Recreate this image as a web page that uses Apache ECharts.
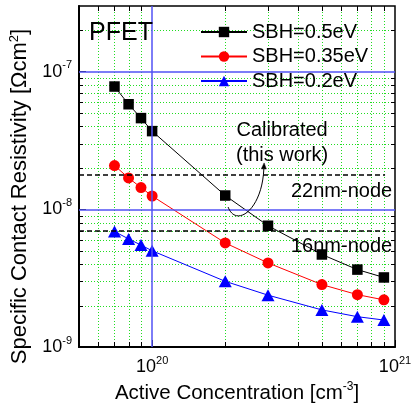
<!DOCTYPE html>
<html><head><meta charset="utf-8">
<script src="https://cdn.jsdelivr.net/npm/echarts@6/dist/echarts.min.js"></script>
<style>html,body{margin:0;padding:0;background:#fff}#c{width:417px;height:406px}</style>
</head><body><div id="c"></div>
<script>
// ---- data ----
const concentration = [7e19, 8e19, 9e19, 1e20, 2e20, 3e20, 5e20, 7e20, 9e20];
const sbh050 = [7.8e-8, 5.8e-8, 4.6e-8, 3.7e-8, 1.26e-8, 7.6e-9, 4.7e-9, 3.65e-9, 3.2e-9];
const sbh035 = [2.08e-8, 1.69e-8, 1.44e-8, 1.25e-8, 5.7e-9, 4.08e-9, 2.84e-9, 2.4e-9, 2.2e-9];
const sbh020 = [6.9e-9, 6.1e-9, 5.5e-9, 5.0e-9, 3.0e-9, 2.38e-9, 1.86e-9, 1.66e-9, 1.57e-9];
const seriesNames = ['SBH=0.5eV', 'SBH=0.35eV', 'SBH=0.2eV'];
const xMinorTicks = [6e19, 7e19, 8e19, 9e19, 2e20, 3e20, 4e20, 5e20, 6e20, 7e20, 8e20, 9e20];
const yMinorTicks = [2e-9, 3e-9, 4e-9, 5e-9, 6e-9, 7e-9, 8e-9, 9e-9,
                     2e-8, 3e-8, 4e-8, 5e-8, 6e-8, 7e-8, 8e-8, 9e-8, 2e-7];
const xMajorGrid = [1e20];
const yMajorGrid = [1e-8, 1e-7];
const nodeLevels = [1.78e-8, 7e-9];
const nodeLabels = ['22nm-node', '16nm-node'];
const X_MIN = 5e19, X_MAX = 1e21, Y_MIN = 1e-9, Y_MAX = 3e-7;
const NODE_LINE_END = 9.1e20;

const FONT = '"Liberation Sans", Arial, Helvetica, sans-serif';
const chart = echarts.init(document.getElementById('c'), null, {renderer: 'canvas'});

function pow10Label(v) {
  const e = Math.log10(v), r = Math.round(e);
  return Math.abs(e - r) < 1e-6 ? '{b|10}{s|' + r + '}' : '';
}
const labelRich = {
  b: {fontSize: 18, lineHeight: 24, fontFamily: FONT, color: '#000'},
  s: {fontSize: 11, lineHeight: 12, verticalAlign: 'top', fontFamily: FONT, color: '#000'}
};

function vLine(x, y1, y2, stroke, w, dash) {
  return {type: 'line', shape: {x1: x, y1: y1, x2: x, y2: y2},
          style: {stroke: stroke, lineWidth: w, lineDash: dash || null}};
}
function hLine(y, x1, x2, stroke, w, dash) {
  return {type: 'line', shape: {x1: x1, y1: y, x2: x2, y2: y},
          style: {stroke: stroke, lineWidth: w, lineDash: dash || null}};
}
const GREEN = '#22dd22';
const BLUE_GRID = '#5252f5';

const option = {
  animation: false,
  backgroundColor: '#fff',
  grid: {left: 79, right: 22, top: 6, bottom: 59, containLabel: false, outerBoundsMode: 'none',
         show: true, borderColor: '#000', borderWidth: 1.5, backgroundColor: 'transparent'},
  legend: {
    data: seriesNames, left: 200, top: 22, orient: 'vertical', padding: 0,
    itemWidth: 46, itemHeight: 13, itemGap: 4.5,
    textStyle: {fontSize: 20, lineHeight: 20, fontFamily: FONT, color: '#000'},
    selectedMode: false
  },
  xAxis: {
    type: 'log', logBase: 10, min: X_MIN, max: X_MAX,
    name: '{n|Active Concentration [cm}{s|-3}{n|]}', nameLocation: 'middle', nameGap: 30,
    nameTextStyle: {fontFamily: FONT, color: '#000', rich: {
      n: {fontSize: 20.5, lineHeight: 24, fontFamily: FONT, color: '#000'},
      s: {fontSize: 12, lineHeight: 12, verticalAlign: 'top', fontFamily: FONT, color: '#000'}}},
    axisLine: {show: true, lineStyle: {color: '#000', width: 2}},
    axisTick: {show: true, inside: true, length: 7, lineStyle: {color: '#000', width: 1}},
    axisLabel: {margin: 8, formatter: pow10Label, rich: labelRich, showMinLabel: false},
    splitLine: {show: false}, minorTick: {show: false}, minorSplitLine: {show: false}
  },
  yAxis: {
    type: 'log', logBase: 10, min: Y_MIN, max: Y_MAX,
    name: '{n|Specific Contact Resistivity [Ωcm}{s|2}{n|]}', nameLocation: 'middle', nameGap: 38,
    nameTextStyle: {fontFamily: FONT, color: '#000', padding: [0, 40, 0, 0], rich: {
      n: {fontSize: 22, lineHeight: 24, fontFamily: FONT, color: '#000'},
      s: {fontSize: 13, lineHeight: 12, verticalAlign: 'top', fontFamily: FONT, color: '#000'}}},
    axisLine: {show: true, lineStyle: {color: '#000', width: 2}},
    axisTick: {show: true, inside: true, length: 7, lineStyle: {color: '#000', width: 1}},
    axisLabel: {margin: 7, formatter: pow10Label, rich: labelRich, showMaxLabel: false},
    splitLine: {show: false}, minorTick: {show: false}, minorSplitLine: {show: false}
  },
  series: [
    { // minor vertical grid + ticks
      type: 'custom', name: 'xgrid', silent: true, z: 1,
      data: xMinorTicks.map(v => [v, Y_MIN]),
      renderItem: function (params, api) {
        const cs = params.coordSys;
        const p = api.coord([api.value(0), api.value(1)]);
        const x = Math.round(p[0]) + 0.5;
        return {type: 'group', children: [
          vLine(x, cs.y, cs.y + cs.height, GREEN, 1, [1, 2]),
          vLine(x, cs.y + cs.height, cs.y + cs.height - 5, '#000', 1),
          vLine(x, cs.y, cs.y + 5, '#000', 1)
        ]};
      }
    },
    { // minor horizontal grid + ticks
      type: 'custom', name: 'ygrid', silent: true, z: 1,
      data: yMinorTicks.map(v => [X_MIN, v]),
      renderItem: function (params, api) {
        const cs = params.coordSys;
        const p = api.coord([api.value(0), api.value(1)]);
        const y = Math.round(p[1]) + 0.5;
        return {type: 'group', children: [
          hLine(y, cs.x, cs.x + cs.width, GREEN, 1, [1, 2]),
          hLine(y, cs.x, cs.x + 4, '#000', 1),
          hLine(y, cs.x + cs.width, cs.x + cs.width - 4, '#000', 1)
        ]};
      }
    },
    { // reference lines (major grid + technology-node levels)
      type: 'line', name: 'ref', data: [], z: 2, silent: true,
      markLine: {
        silent: true, symbol: 'none', label: {show: false}, animation: false,
        emphasis: {disabled: true},
        data: [
          ...xMajorGrid.map(v => [
            {coord: [v, Y_MIN], lineStyle: {color: BLUE_GRID, width: 1.5, type: 'solid'}},
            {coord: [v, Y_MAX]}
          ]),
          ...yMajorGrid.map(v => [
            {coord: [X_MIN, v], lineStyle: {color: BLUE_GRID, width: 1.5, type: 'solid'}},
            {coord: [X_MAX, v]}
          ]),
          ...nodeLevels.map(v => [
            {coord: [X_MIN, v], lineStyle: {color: '#000', width: 1.5, type: [5, 3]}},
            {coord: [NODE_LINE_END, v]}
          ])
        ]
      }
    },
    {
      type: 'line', name: seriesNames[0], z: 3,
      data: concentration.map((c, i) => [c, sbh050[i]]),
      symbol: 'rect', symbolSize: 10.5, showAllSymbol: true,
      color: '#000', itemStyle: {color: '#000'}, lineStyle: {color: '#000', width: 1}
    },
    {
      type: 'line', name: seriesNames[1], z: 3,
      data: concentration.map((c, i) => [c, sbh035[i]]),
      symbol: 'circle', symbolSize: 11, showAllSymbol: true,
      color: '#ff0000', itemStyle: {color: '#ff0000'}, lineStyle: {color: '#ff0000', width: 1}
    },
    {
      type: 'line', name: seriesNames[2], z: 3,
      data: concentration.map((c, i) => [c, sbh020[i]]),
      symbol: 'triangle', symbolSize: [13, 12], showAllSymbol: true,
      color: '#0000ff', itemStyle: {color: '#0000ff'}, lineStyle: {color: '#0000ff', width: 1}
    }
  ]
};
chart.setOption(option);

// ---- annotations anchored in data space ----
function P(x, y) { return chart.convertToPixel({xAxisIndex: 0, yAxisIndex: 0}, [x, y]); }
function txt(pt, text, size, align, lh) {
  return {type: 'text', x: pt[0], y: pt[1], z: 10, silent: true,
    style: {text: text, fontSize: size, fontFamily: FONT, fill: '#000',
            align: align, textAlign: align, verticalAlign: 'middle', textVerticalAlign: 'middle',
            lineHeight: lh || size}};
}
const pPfet = P(5.5e19, 1.9e-7);
const pCal = P(3.43e20, 3.04e-8);
const pN22 = P(3.73e20, 1.35e-8);
const pN16 = P(3.73e20, 5.41e-9);
const a0 = P(2.055e20, 1.039e-8), a1 = P(2.217e20, 7.31e-9),
      a2 = P(2.836e20, 9.88e-9), a3 = P(2.89e20, 2.138e-8);
// arrowhead along end tangent
const dx = a3[0] - a2[0], dy = a3[1] - a2[1], L = Math.hypot(dx, dy);
const ux = dx / L, uy = dy / L, hl = 6, hw = 2.5;
const tip = [a3[0] + ux * 1, a3[1] + uy * 1];
const base = [tip[0] - ux * hl, tip[1] - uy * hl];
chart.setOption({graphic: [
  txt(pPfet, 'PFET', 25, 'left'),
  txt(pCal, 'Calibrated\n(this work)', 20, 'center', 25),
  txt(pN22, nodeLabels[0], 20, 'left'),
  txt(pN16, nodeLabels[1], 20, 'left'),
  {type: 'bezierCurve', z: 10, silent: true,
   shape: {x1: a0[0], y1: a0[1], cpx1: a1[0], cpy1: a1[1], cpx2: a2[0], cpy2: a2[1], x2: base[0], y2: base[1]},
   style: {stroke: '#000', lineWidth: 1, fill: null}},
  {type: 'polygon', z: 10, silent: true,
   shape: {points: [tip, [base[0] - uy * hw, base[1] + ux * hw], [base[0] + uy * hw, base[1] - ux * hw]]},
   style: {fill: '#000', stroke: '#000', lineWidth: 0.5}}
]});
</script></body></html>
